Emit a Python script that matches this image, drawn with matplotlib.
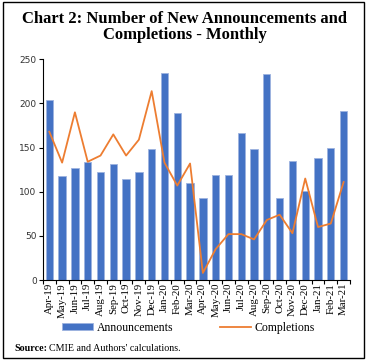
import numpy as np
import matplotlib.pyplot as plt
from matplotlib.patches import Rectangle

months = ["Apr-19", "May-19", "Jun-19", "Jul-19", "Aug-19", "Sep-19", "Oct-19", "Nov-19",
          "Dec-19", "Jan-20", "Feb-20", "Mar-20", "Apr-20", "May-20", "Jun-20", "Jul-20",
          "Aug-20", "Sep-20", "Oct-20", "Nov-20", "Dec-20", "Jan-21", "Feb-21", "Mar-21"]
announcements = [204, 118, 127, 134, 122, 132, 115, 122, 149, 234, 189, 110,
                 93, 119, 119, 167, 148, 233, 93, 135, 101, 138, 150, 191]
completions = [168, 133, 190, 134, 141, 165, 141, 159, 214, 133, 107, 132,
               8, 35, 52, 52, 46, 68, 74, 53, 115, 60, 64, 111]

serif = "Liberation Serif"

fig = plt.figure(figsize=(3.70, 3.62), dpi=100)
ax = fig.add_axes([0.116, 0.2265, 0.83, 0.6095])

x = np.arange(len(months))
bars = ax.bar(x, announcements, width=0.57, color="#4472C4", edgecolor="#9DB3DF",
              linewidth=0.6, label="Announcements")
line, = ax.plot(x, completions, color="#ED7D31", linewidth=1.3, label="Completions")

ax.set_xlim(-0.5, len(months) - 0.5)
ax.set_ylim(0, 250)
ax.set_yticks([0, 50, 100, 150, 200, 250])
ax.tick_params(axis="y", labelsize=6.5, length=3, width=0.8, pad=1.5, labelcolor="#333333")
ax.set_xticks(x)
ax.set_xticklabels(months, rotation=90, fontsize=7.8, family=serif)
ax.set_xticks(np.arange(-0.5, len(months)), minor=True)
ax.tick_params(axis="x", which="major", length=0, pad=2)
ax.tick_params(axis="x", which="minor", length=3, width=0.8)
for s in ["top", "right"]:
    ax.spines[s].set_visible(False)
ax.spines["left"].set_linewidth(0.8)
ax.spines["bottom"].set_linewidth(0.8)

fig.legend([bars, line], ["Announcements", "Completions"], loc="center",
           bbox_to_anchor=(0.51, 0.095), ncol=2, frameon=False,
           prop={"family": serif, "size": 8.5}, handlelength=2.6, handleheight=0.5,
           columnspacing=4.0, handletextpad=0.3)

fig.text(0.5, 0.925, "Chart 2: Number of New Announcements and\nCompletions - Monthly",
         ha="center", va="center", fontsize=12, fontweight="bold",
         family=serif, linespacing=1.0)
fig.text(0.038, 0.038, "Source:", fontsize=7.2, fontweight="bold", family=serif,
         va="center")
fig.text(0.132, 0.038, "CMIE and Authors' calculations.", fontsize=7.2,
         family=serif, va="center")

fig.patches.append(Rectangle((0.008, 0.012), 0.975, 0.982, transform=fig.transFigure,
                             fill=False, edgecolor="black", linewidth=1.0))

fig.savefig("out.png", dpi=100)
